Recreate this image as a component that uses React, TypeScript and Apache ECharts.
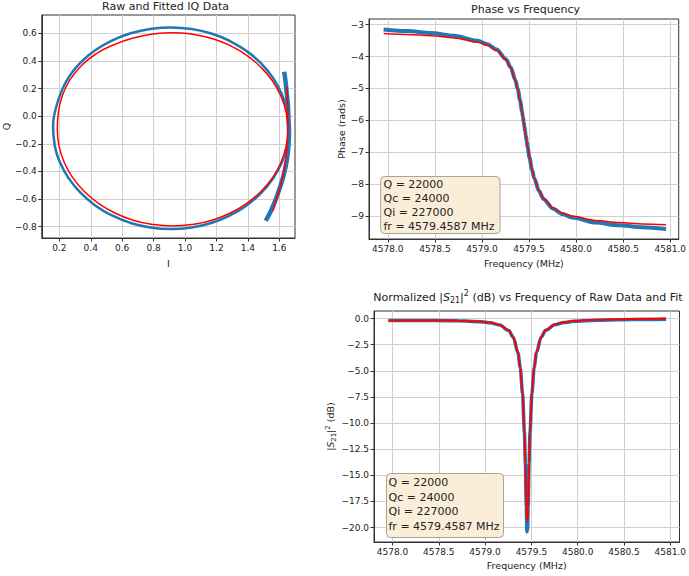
import React, { useEffect, useRef } from "react";
import * as echarts from "echarts";

// ---------- data ----------
const freqMHz = [4577.955, 4578.205, 4578.455, 4578.705, 4578.955, 4579.055, 4579.155, 4579.255, 4579.305, 4579.355, 4579.38, 4579.405, 4579.425, 4579.435, 4579.445, 4579.451, 4579.459, 4579.465, 4579.475, 4579.485, 4579.505, 4579.53, 4579.555, 4579.605, 4579.655, 4579.755, 4579.855, 4579.955, 4580.205, 4580.455, 4580.705, 4580.955];
const phaseRaw = [-3.147, -3.196, -3.259, -3.349, -3.505, -3.612, -3.779, -4.081, -4.338, -4.74, -5.023, -5.381, -5.716, -5.898, -6.087, -6.203, -6.357, -6.473, -6.662, -6.844, -7.179, -7.537, -7.82, -8.222, -8.479, -8.781, -8.948, -9.055, -9.211, -9.301, -9.364, -9.414];
const phaseFit = [-3.277, -3.305, -3.346, -3.414, -3.549, -3.647, -3.805, -4.098, -4.351, -4.749, -5.03, -5.385, -5.719, -5.9, -6.088, -6.203, -6.357, -6.472, -6.66, -6.841, -7.175, -7.53, -7.811, -8.209, -8.462, -8.755, -8.913, -9.011, -9.146, -9.214, -9.255, -9.283];
const s21dbRaw = [-0.18, -0.18, -0.19, -0.21, -0.3, -0.4, -0.6, -1.14, -1.8, -3.26, -4.7, -7.24, -10.9, -13.84, -18.05, -20.4, -20.2, -18.05, -13.84, -10.9, -7.24, -4.7, -3.25, -1.78, -1.12, -0.58, -0.37, -0.26, -0.15, -0.11, -0.08, -0.06];
const s21dbFit = [-0.19, -0.18, -0.18, -0.2, -0.28, -0.38, -0.58, -1.11, -1.77, -3.24, -4.68, -7.21, -10.87, -13.81, -18.02, -19.3, -19.3, -18.02, -13.81, -10.87, -7.21, -4.67, -3.22, -1.75, -1.09, -0.54, -0.33, -0.22, -0.1, -0.05, -0.02, 0.01];

// IQ plane [I, Q]
const iqRawTailStart = [[1.631, 0.322], [1.64, 0.25], [1.648, 0.16], [1.655, 0.08], [1.658, 0.0], [1.66, -0.05]];
const iqRawLoop = [[1.66, -0.087], [1.649, -0.214], [1.615, -0.337], [1.56, -0.452], [1.485, -0.556], [1.392, -0.646], [1.285, -0.719], [1.167, -0.773], [1.04, -0.806], [0.91, -0.817], [0.78, -0.806], [0.654, -0.773], [0.535, -0.719], [0.428, -0.646], [0.336, -0.556], [0.261, -0.452], [0.205, -0.337], [0.171, -0.214], [0.16, -0.07], [0.175, 0.045], [0.21, 0.17], [0.264, 0.29], [0.336, 0.39], [0.428, 0.478], [0.535, 0.548], [0.654, 0.601], [0.78, 0.632], [0.91, 0.643], [1.04, 0.632], [1.167, 0.599], [1.285, 0.545], [1.392, 0.472], [1.485, 0.382], [1.56, 0.278], [1.615, 0.163], [1.649, 0.04], [1.66, -0.087]];
const iqRawTailEnd = [[1.66, -0.05], [1.662, -0.12], [1.658, -0.22], [1.648, -0.32], [1.627, -0.43], [1.6, -0.53], [1.575, -0.61], [1.545, -0.69], [1.514, -0.757]];
const iqFit = [[1.648, 0.215], [1.652, 0.12], [1.655, 0.03], [1.655, -0.095], [1.644, -0.217], [1.611, -0.334], [1.557, -0.445], [1.483, -0.545], [1.393, -0.631], [1.288, -0.701], [1.172, -0.753], [1.048, -0.784], [0.921, -0.795], [0.794, -0.784], [0.67, -0.753], [0.554, -0.701], [0.449, -0.631], [0.359, -0.545], [0.285, -0.445], [0.231, -0.334], [0.198, -0.217], [0.187, -0.095], [0.194, 0.03], [0.22, 0.152], [0.27, 0.268], [0.345, 0.372], [0.438, 0.455], [0.548, 0.518], [0.67, 0.566], [0.794, 0.595], [0.921, 0.605], [1.048, 0.594], [1.172, 0.563], [1.288, 0.511], [1.393, 0.441], [1.483, 0.355], [1.557, 0.255], [1.611, 0.144], [1.644, 0.027], [1.655, -0.095], [1.65, -0.2], [1.637, -0.34], [1.615, -0.47], [1.589, -0.58], [1.559, -0.685]];

// tick labels
const iqXTicks = [0.2, 0.4, 0.6, 0.8, 1.0, 1.2, 1.4, 1.6];
const iqYTicks = [-0.8, -0.6, -0.4, -0.2, 0.0, 0.2, 0.4, 0.6];
const freqTicks = [4578.0, 4578.5, 4579.0, 4579.5, 4580.0, 4580.5, 4581.0];
const phaseTicks = [-9, -8, -7, -6, -5, -4, -3];
const dbTicks = [-20, -17.5, -15, -12.5, -10, -7.5, -5, -2.5, 0];

const fitLines = ["Q = 22000", "Qc = 24000", "Qi = 227000", "fr = 4579.4587 MHz"];

// ---------- helpers ----------
const FONT = "DejaVu Sans";
const TXT = "#222";
const BLUE = "#1f77b4";
const RED = "#ff0000";
const minus = (s: string) => s.replace("-", "\u2212");
const fmt1 = (v: number) => minus(Number(v).toFixed(1));
const fmt0 = (v: number) => minus(Number(v).toFixed(0));

const subRich = {
  i: { fontStyle: "italic", fontSize: 11, fontFamily: FONT, color: TXT },
  sub: { fontSize: 8, padding: [7, 0, 0, 0], fontFamily: FONT, color: TXT },
  sup: { fontSize: 8, padding: [0, 0, 7, 0], fontFamily: FONT, color: TXT },
};
const subRichSmall = {
  i: { fontStyle: "italic", fontSize: 9, fontFamily: FONT, color: TXT },
  sub: { fontSize: 7, padding: [6, 0, 0, 0], fontFamily: FONT, color: TXT },
  sup: { fontSize: 7, padding: [0, 0, 6, 0], fontFamily: FONT, color: TXT },
};

function makeAxis(
  gridIndex: number,
  min: number,
  max: number,
  ticks: number[],
  fmt: (v: number) => string,
  name: string,
  nameGap: number,
  nameRich?: any
) {
  return {
    type: "value",
    gridIndex,
    min,
    max,
    name,
    nameLocation: "middle",
    nameGap,
    nameTextStyle: { color: TXT, fontSize: 9.5, fontFamily: FONT, rich: nameRich },
    axisLine: { show: true, onZero: false, lineStyle: { color: "#333", width: 1 } },
    axisTick: { show: true, inside: false, length: 3.5, customValues: ticks, lineStyle: { color: "#333", width: 1 } },
    axisLabel: { show: true, customValues: ticks, formatter: fmt, color: TXT, fontSize: 9, fontFamily: FONT, margin: 5 },
    splitLine: { show: true, lineStyle: { color: "#d0d0d0", width: 1 } },
  };
}

function fitBox(x: number, y: number, w: number, h: number, tx: number, ys: number[]) {
  const children: any[] = [
    {
      type: "rect",
      shape: { x, y, width: w, height: h, r: 4 },
      style: { fill: "#faeed9", stroke: "#a9a398", lineWidth: 1 },
      z: 100,
    },
  ];
  fitLines.forEach((t, i) => {
    children.push({
      type: "text",
      x: tx,
      y: ys[i],
      z: 101,
      style: {
        text: t,
        fontSize: 11,
        fontFamily: FONT,
        fill: TXT,
        align: "left",
        verticalAlign: "middle",
        textAlign: "left",
        textVerticalAlign: "middle",
      },
    });
  });
  return { type: "group", children };
}

function titleText(text: string, x: number, y: number, rich?: any) {
  return {
    type: "text",
    x,
    y,
    z: 100,
    style: {
      text,
      rich,
      fontSize: 11,
      fontFamily: FONT,
      fill: TXT,
      align: "center",
      verticalAlign: "middle",
      textAlign: "center",
      textVerticalAlign: "middle",
    },
  };
}

const zip = (xs: number[], ys: number[]) => xs.map((x, i) => [x, ys[i]]);

export default function App() {
  const ref = useRef<HTMLDivElement>(null);
  useEffect(() => {
    if (!ref.current) return;
    const chart = echarts.init(ref.current, null, { renderer: "svg" });
    const option: any = {
      animation: false,
      backgroundColor: "#ffffff",
      textStyle: { fontFamily: FONT },
      grid: [
        { left: 36, top: 15, width: 259, height: 223, show: true, borderColor: "#333", borderWidth: 1, backgroundColor: "transparent" },
        { left: 369, top: 19, width: 313, height: 220, show: true, borderColor: "#333", borderWidth: 1, backgroundColor: "transparent" },
        { left: 374, top: 311, width: 308, height: 231, show: true, borderColor: "#333", borderWidth: 1, backgroundColor: "transparent" },
      ],
      xAxis: [
        makeAxis(0, 0.088, 1.7, iqXTicks, fmt1, "I", 20),
        makeAxis(1, 4577.8, 4581.09, freqTicks, fmt1, "Frequency (MHz)", 19),
        makeAxis(2, 4577.8, 4581.1, freqTicks, fmt1, "Frequency (MHz)", 18),
      ],
      yAxis: [
        makeAxis(0, -0.882, 0.733, iqYTicks, fmt1, "Q", 28),
        makeAxis(1, -9.73, -2.82, phaseTicks, fmt0, "Phase (rads)", 23),
        makeAxis(2, -21.38, 0.73, dbTicks, fmt1, "|{i|S}{sub|21}|{sup|2} (dB)", 37, subRichSmall),
      ],
      series: [
        { type: "line", xAxisIndex: 0, yAxisIndex: 0, data: iqRawLoop, showSymbol: false, smooth: 0.5, silent: true, lineStyle: { color: BLUE, width: 2.5 }, z: 2 },
        { type: "line", xAxisIndex: 0, yAxisIndex: 0, data: iqRawTailStart, showSymbol: false, smooth: 0.3, silent: true, lineStyle: { color: BLUE, width: 4.5 }, z: 2 },
        { type: "line", xAxisIndex: 0, yAxisIndex: 0, data: iqRawTailEnd, showSymbol: false, smooth: 0.3, silent: true, lineStyle: { color: BLUE, width: 4.5 }, z: 2 },
        { type: "line", xAxisIndex: 0, yAxisIndex: 0, data: iqFit, showSymbol: false, smooth: 0.5, silent: true, lineStyle: { color: RED, width: 1.5 }, z: 3 },
        { type: "line", xAxisIndex: 1, yAxisIndex: 1, data: zip(freqMHz, phaseRaw), showSymbol: false, smooth: 0.3, smoothMonotone: "x", silent: true, lineStyle: { color: BLUE, width: 4 }, z: 2 },
        { type: "line", xAxisIndex: 1, yAxisIndex: 1, data: zip(freqMHz, phaseFit), showSymbol: false, smooth: 0.3, smoothMonotone: "x", silent: true, lineStyle: { color: RED, width: 1.5 }, z: 3 },
        { type: "line", xAxisIndex: 2, yAxisIndex: 2, data: zip(freqMHz, s21dbRaw), showSymbol: false, smooth: 0.3, smoothMonotone: "x", silent: true, lineStyle: { color: BLUE, width: 3.5 }, z: 2 },
        { type: "line", xAxisIndex: 2, yAxisIndex: 2, data: zip(freqMHz, s21dbFit), showSymbol: false, smooth: 0.3, smoothMonotone: "x", silent: true, lineStyle: { color: RED, width: 2 }, z: 3 },
      ],
      graphic: [
        titleText("Raw and Fitted IQ Data", 165.5, 6.5),
        titleText("Phase vs Frequency", 525.5, 9),
        titleText("Normalized |{i|S}{sub|21}|{sup|2} (dB) vs Frequency of Raw Data and Fit", 528, 297, subRich),
        fitBox(380.7, 176.5, 119.3, 57, 383.5, [184, 198.2, 212.2, 226.4]),
        fitBox(386.5, 473.5, 117, 64, 388.5, [482.5, 497, 511.2, 526]),
      ],
    };
    chart.setOption(option);
    return () => chart.dispose();
  }, []);
  return (
    <div
      ref={ref}
      style={{ position: "fixed", left: 0, top: 0, width: 689, height: 576, background: "#fff" }}
    />
  );
}
